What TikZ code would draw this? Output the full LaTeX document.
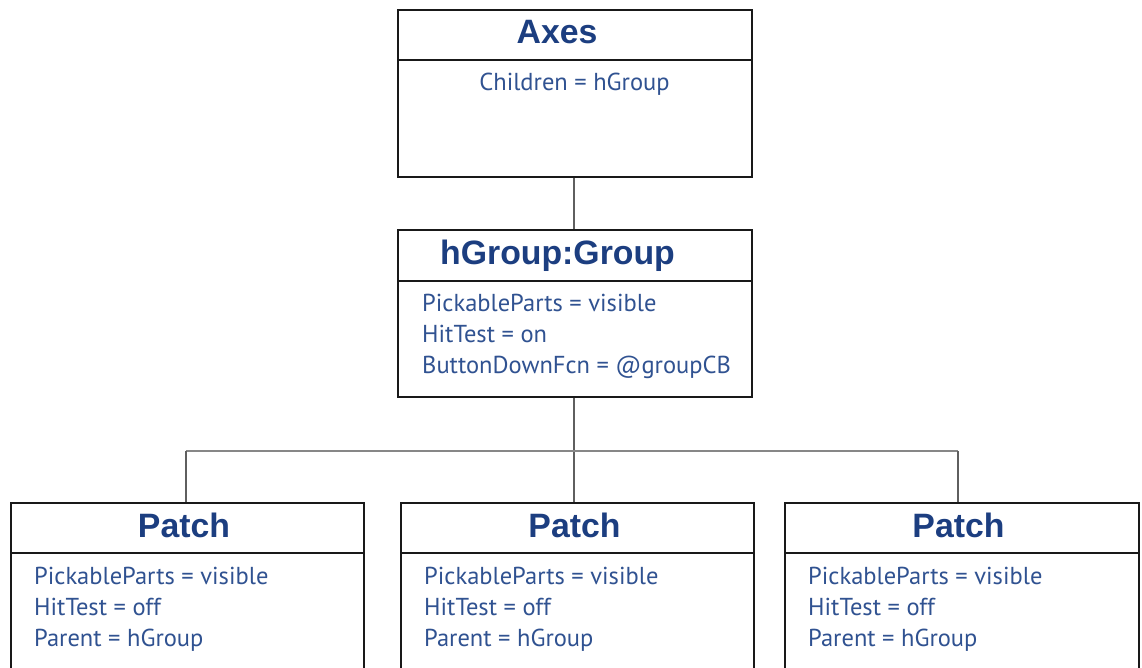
\documentclass[tikz,border=0pt]{standalone}
\usepackage{fontspec}
\setmainfont{Liberation Sans}
\newfontfamily\bodyfont{PT Sans}
\definecolor{titleblue}{RGB}{28,62,128}
\definecolor{bodyblue}{RGB}{48,82,145}
\definecolor{boxline}{RGB}{25,25,25}
\definecolor{connline}{RGB}{95,95,95}
\begin{document}
\begin{tikzpicture}[x=1pt,y=-1pt,
  box/.style={draw=boxline, line width=2.4pt, fill=white, rectangle, inner sep=0pt, anchor=north west},
  divider/.style={draw=boxline, line width=1.8pt},
  conn/.style={draw=connline, line width=2.8pt},
  busline/.style={draw=connline!75, line width=2pt},
  titletext/.style={text=titleblue, font=\fontsize{33.8}{36}\selectfont\bfseries, anchor=base, inner sep=0pt},
  bodytext/.style={text=bodyblue, font=\bodyfont\fontsize{24.5}{31}\selectfont, anchor=base west, inner sep=0pt, align=left},
  bodyc/.style={text=bodyblue, font=\bodyfont\fontsize{24.5}{31}\selectfont, anchor=base, inner sep=0pt}]
\useasboundingbox (0,0) rectangle (1142,668);
\clip (0,0) rectangle (1142,668);
\fill[white] (0,0) rectangle (1142,668);

% Axes
\node[box, minimum width=354pt, minimum height=167pt] (axes) at (397,9) {};
\draw[divider] (397,60) -- (751,60);
\node[titletext] (axesT) at (557,44) {Axes};
\node[bodyc] (axesB) at (574.5,91) {Children = hGroup};

% hGroup
\node[box, minimum width=354pt, minimum height=167pt] (grp) at (397,229) {};
\draw[divider] (397,281) -- (751,281);
\node[titletext] (grpT) at (557.5,265) {hGroup:Group};
\node[bodytext] (grpB1) at (422,311) {PickableParts = visible};
\node[bodytext] (grpB2) at (422,342) {HitTest = on};
\node[bodytext] (grpB3) at (422,373) {ButtonDownFcn = @groupCB};

% Patches
\node[box, minimum width=353pt, minimum height=220pt] (p1) at (10,502) {};
\node[box, minimum width=353pt, minimum height=220pt] (p2) at (400,502) {};
\node[box, minimum width=354pt, minimum height=220pt] (p3) at (784,502) {};
\draw[divider] (10,553) -- (363,553);
\draw[divider] (400,553) -- (753,553);
\draw[divider] (784,553) -- (1138,553);

\node[titletext] (p1T) at (184,537) {Patch};
\node[titletext] (p2T) at (574.5,537) {Patch};
\node[titletext] (p3T) at (958.5,537) {Patch};

\foreach \n/\x in {p1/34, p2/424, p3/808}{
  \node[bodytext] (\n B1) at (\x,584) {PickableParts = visible};
  \node[bodytext] (\n B2) at (\x,615) {HitTest = off};
  \node[bodytext] (\n B3) at (\x,646) {Parent = hGroup};
}

% connectors
\coordinate (busL) at (186,451);
\coordinate (busM) at (574,451);
\coordinate (busR) at (958,451);
\draw[conn] (axes.south -| busM) -- (grp.north -| busM);
\draw[conn] (grp.south -| busM) -- (busM) -- (p2.north -| busM);
\draw[busline] (busL) -- (busR);
\draw[conn] (busL) -- (p1.north -| busL);
\draw[conn] (busR) -- (p3.north -| busR);
\end{tikzpicture}
\end{document}
